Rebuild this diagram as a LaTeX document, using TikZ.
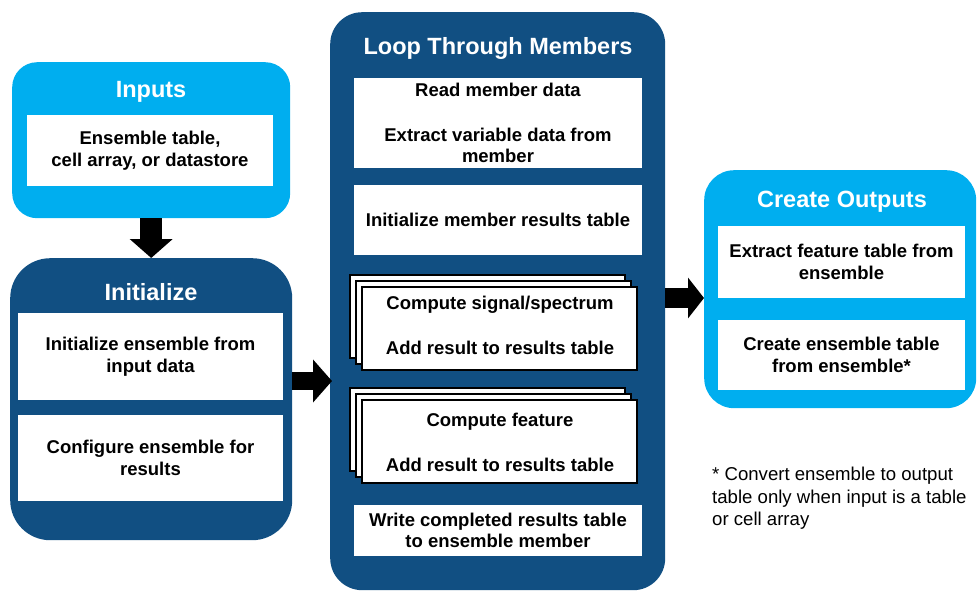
\documentclass[tikz,border=0pt]{standalone}
\usepackage{fontspec}
\setmainfont{Liberation Sans}
\usetikzlibrary{arrows.meta}
\definecolor{lblue}{RGB}{0,174,239}
\definecolor{dblue}{RGB}{17,79,130}
\begin{document}
\begin{tikzpicture}[x=1pt,y=-1pt,
  panel/.style={inner sep=0pt, anchor=north west},
  ptitle/.style={text=white, font=\bfseries\fontsize{23.5}{26}\selectfont, inner sep=0pt},
  wbox/.style={fill=white, inner sep=0pt, align=center, font=\bfseries\fontsize{18.5}{21.5}\selectfont},
  wtext/.style={inner sep=0pt, align=center, font=\bfseries\fontsize{18.5}{21.5}\selectfont},
  sbox/.style={fill=white, draw=black, line width=1.3pt, inner sep=0pt, minimum width=275pt, minimum height=83pt},
  bigarrow/.style={line width=#1, -{Triangle[length=19pt,width=42pt]}},
  note/.style={align=left, inner sep=0pt, anchor=north west, font=\fontsize{18.6}{22.5}\selectfont}
]
\useasboundingbox (0,0) rectangle (978,590);

% ---------- Inputs ----------
\node[panel, fill=lblue, rounded corners=25pt, minimum width=278pt, minimum height=156pt] (inputs) at (12,62) {};
\node[ptitle] (inT) at (151,92) {Inputs};
\node[wbox, minimum width=246pt, minimum height=71pt] (inB) at (150,150.5) {Ensemble table,\\cell array, or datastore};

% ---------- Initialize ----------
\node[panel, fill=dblue, rounded corners=40pt, minimum width=282pt, minimum height=282pt] (init) at (10,258) {};
\node[ptitle] (iniT) at (151,292) {Initialize};
\node[wbox, minimum width=265pt, minimum height=87pt] (iniB1) at (150.5,356.5) {Initialize ensemble from\\input data};
\node[wbox, minimum width=265pt, minimum height=86pt] (iniB2) at (150.5,458) {Configure ensemble for\\results};

% ---------- Loop Through Members ----------
\node[panel, fill=dblue, rounded corners=32pt, minimum width=335pt, minimum height=578pt] (loop) at (330,12) {};
\node[ptitle] (loopT) at (498,48.5) {Loop Through Members};
\node[wbox, minimum width=288pt, minimum height=90pt] (lb1) at (498,123) {Read member data\\[23.5pt]Extract variable data from\\member};
\node[wbox, minimum width=288pt, minimum height=70pt] (lb2) at (498,220) {Initialize member results table};

% stack 1
\node[sbox] (s1c) at (487.5,316.5) {};
\node[sbox] (s1b) at (493.5,322.5) {};
\node[sbox] (s1a) at (499.5,328.5) {};
\node[wtext] (s1t) at (500,325) {Compute signal/spectrum\\[23.5pt]Add result to results table};
% stack 2
\node[sbox] (s2c) at (487.5,429.5) {};
\node[sbox] (s2b) at (493.5,435.5) {};
\node[sbox] (s2a) at (499.5,441.5) {};
\node[wtext] (s2t) at (500,442) {Compute feature\\[23.5pt]Add result to results table};

\node[wbox, minimum width=288pt, minimum height=51pt] (lb5) at (498,530.5) {Write completed results table\\to ensemble member};

% ---------- Create Outputs ----------
\node[panel, fill=lblue, rounded corners=30pt, minimum width=272pt, minimum height=238pt] (outs) at (704,170) {};
\node[ptitle] (outT) at (842,202) {Create Outputs};
\node[wbox, minimum width=247pt, minimum height=72pt] (ob1) at (841.5,262) {Extract feature table from\\ensemble};
\node[wbox, minimum width=247pt, minimum height=70pt] (ob2) at (841.5,355) {Create ensemble table\\from ensemble*};

% ---------- note ----------
\node[note] (fn) at (712,467) {* Convert ensemble to output\\table only when input is a table\\or cell array};

% ---------- arrows ----------
\draw[bigarrow=22pt] (inputs.south) -- (init.north);
\draw[bigarrow=18pt] (init.east |- 0,381) -- ([xshift=2pt]loop.west |- 0,381);
\draw[line width=20pt, -{Triangle[length=16pt,width=40pt]}] (loop.east |- 0,298) -- (outs.west |- 0,298);
\end{tikzpicture}
\end{document}
